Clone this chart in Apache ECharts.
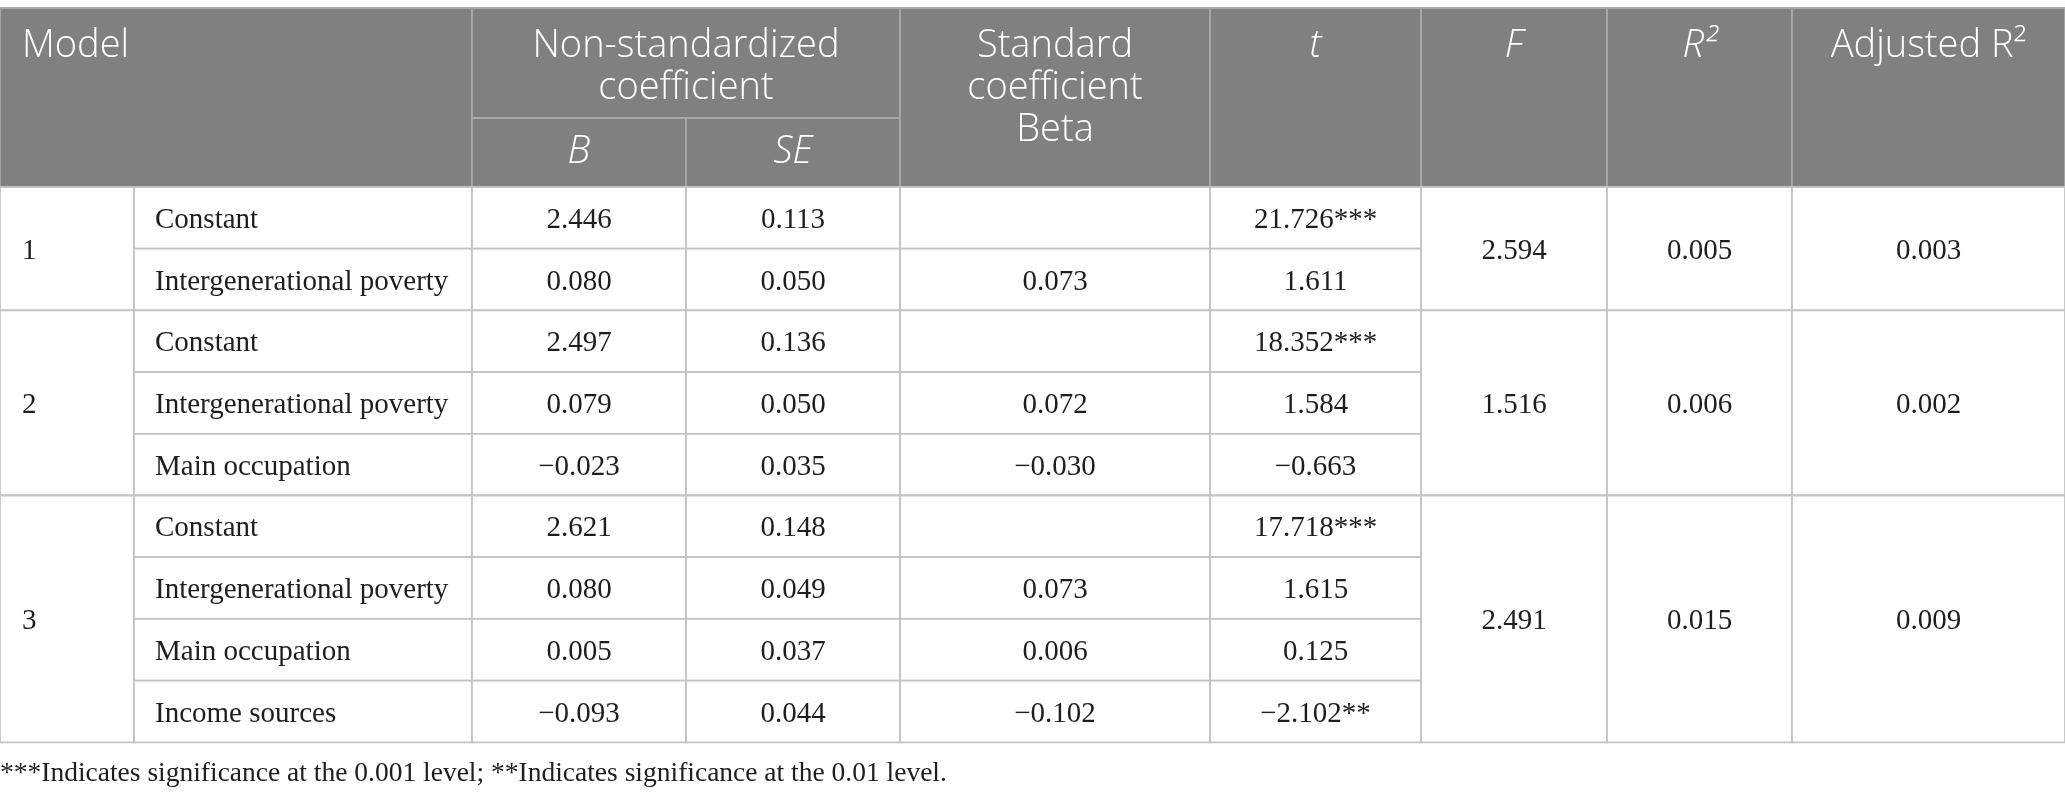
<!DOCTYPE html>
<html>
<head>
    <meta charset="utf-8"/>
    <title>Regression table</title>
    <script src="https://cdn.jsdelivr.net/npm/echarts@6/dist/echarts.min.js"></script>
    <style>
        html, body {margin: 0; padding: 0; background: #fff;}
        #main {width: 2065px; height: 801px;}
    </style>
</head>
<body>
<div id="main"></div>
<script type="text/javascript">
    /* table contents */
    var headerTop = ['Model', 'Non-standardized\ncoefficient', 'Standard\ncoefficient\nBeta', 't', 'F', 'R²', 'Adjusted R²'];
    var headerSub = ['B', 'SE'];
    var models = ['1', '2', '3'];
    var modelRows = [2, 3, 4];   // number of variable rows in each model
    var variables = ['Constant', 'Intergenerational poverty',
        'Constant', 'Intergenerational poverty', 'Main occupation',
        'Constant', 'Intergenerational poverty', 'Main occupation', 'Income sources'];
    var coefB = [2.446, 0.080, 2.497, 0.079, -0.023, 2.621, 0.080, 0.005, -0.093];
    var coefSE = [0.113, 0.050, 0.136, 0.050, 0.035, 0.148, 0.049, 0.037, 0.044];
    var beta = [null, 0.073, null, 0.072, -0.030, null, 0.073, 0.006, -0.102];
    var tValues = [21.726, 1.611, 18.352, 1.584, -0.663, 17.718, 1.615, 0.125, -2.102];
    var tStars = ['***', '', '***', '', '', '***', '', '', '**'];
    var fValues = [2.594, 1.516, 2.491];
    var r2Values = [0.005, 0.006, 0.015];
    var adjR2Values = [0.003, 0.002, 0.009];
    var footnote = '***Indicates significance at the 0.001 level; **Indicates significance at the 0.01 level.';

    /* layout (axis units = px of the picture) */
    var colEdges = [0, 134, 472, 686, 900, 1210, 1421, 1607, 1792, 2065];
    var headEdges = [8, 118, 187];
    var rowH = 61.7;
    function rowEdge(i) {
        return i < 3 ? headEdges[i] : headEdges[2] + rowH * (i - 2);
    }

    var SANS = '"Open Sans", "Noto Sans", sans-serif';
    var SERIF = '"Liberation Serif", "DejaVu Serif", serif';

    function fmt(v) {
        if (v === null || v === undefined) return '';
        return v.toFixed(3).replace('-', '\u2212');
    }

    /* build cell list: [c0, c1, r0, r1, text, kind, align] */
    var cells = [];
    cells.push([0, 2, 0, 2, headerTop[0], 'head', 'left']);
    cells.push([2, 4, 0, 1, headerTop[1], 'head', 'center']);
    cells.push([2, 3, 1, 2, headerSub[0], 'headI', 'center']);
    cells.push([3, 4, 1, 2, headerSub[1], 'headI', 'center']);
    cells.push([4, 5, 0, 2, headerTop[2], 'head', 'center']);
    cells.push([5, 6, 0, 2, headerTop[3], 'headI', 'center']);
    cells.push([6, 7, 0, 2, headerTop[4], 'headI', 'center']);
    cells.push([7, 8, 0, 2, headerTop[5], 'headI', 'center']);
    cells.push([8, 9, 0, 2, headerTop[6], 'head', 'center']);

    var start = 2;
    for (var m = 0; m < models.length; m++) {
        var end = start + modelRows[m];
        cells.push([0, 1, start, end, models[m], 'body', 'left']);
        cells.push([6, 7, start, end, fmt(fValues[m]), 'body', 'center']);
        cells.push([7, 8, start, end, fmt(r2Values[m]), 'body', 'center']);
        cells.push([8, 9, start, end, fmt(adjR2Values[m]), 'body', 'center']);
        start = end;
    }
    for (var k = 0; k < variables.length; k++) {
        var r = k + 2;
        cells.push([1, 2, r, r + 1, variables[k], 'body', 'left']);
        cells.push([2, 3, r, r + 1, fmt(coefB[k]), 'body', 'center']);
        cells.push([3, 4, r, r + 1, fmt(coefSE[k]), 'body', 'center']);
        cells.push([4, 5, r, r + 1, fmt(beta[k]), 'body', 'center']);
        cells.push([5, 6, r, r + 1, fmt(tValues[k]) + tStars[k], 'body', 'center']);
    }

    function renderCell(params, api) {
        var c = cells[params.dataIndex];
        var p0 = api.coord([colEdges[c[0]], rowEdge(c[2])]);
        var p1 = api.coord([colEdges[c[1]], rowEdge(c[3])]);
        var x = p0[0], y = p0[1], w = p1[0] - p0[0], h = p1[1] - p0[1];
        var isHead = c[5] !== 'body';
        var tx, ty, va;
        if (c[6] === 'left') {
            tx = x + (c[0] === 0 ? 22 : 21);
        } else {
            tx = x + w / 2;
        }
        if (isHead && c[2] === 0) {
            // header text hangs from the top of its cell
            ty = y + 17;
            va = 'top';
        } else {
            ty = y + h / 2 + (isHead ? 0 : 2.5);
            va = 'middle';
        }
        return {
            type: 'group',
            children: [{
                type: 'rect',
                shape: {x: x, y: y, width: w, height: h},
                style: {
                    fill: isHead ? '#7f807f' : '#fff',
                    stroke: isHead ? '#a8a8a8' : '#c3c3c3',
                    lineWidth: 1.8
                }
            }, {
                type: 'text',
                z2: 10,
                style: {
                    text: c[4],
                    x: tx,
                    y: ty,
                    align: c[6],
                    verticalAlign: va,
                    fill: isHead ? '#fff' : '#1e1e1e',
                    fontFamily: isHead ? SANS : SERIF,
                    fontSize: isHead ? 38 : 29,
                    fontStyle: c[5] === 'headI' ? 'italic' : 'normal',
                    fontWeight: isHead ? 300 : 'normal',
                    lineHeight: 42
                }
            }]
        };
    }

    var chart = echarts.init(document.getElementById('main'));
    var option = {
        animation: false,
        backgroundColor: '#fff',
        title: {
            text: footnote,
            left: 0,
            top: 760,
            padding: 0,
            textStyle: {
                fontFamily: SERIF,
                fontSize: 27.5,
                fontWeight: 'normal',
                color: '#1e1e1e'
            }
        },
        grid: {left: 0, right: 0, top: 0, bottom: 0},
        xAxis: {type: 'value', min: 0, max: 2065, show: false},
        yAxis: {type: 'value', min: 0, max: 801, inverse: true, show: false},
        series: [{
            type: 'custom',
            coordinateSystem: 'cartesian2d',
            clip: false,
            silent: true,
            renderItem: renderCell,
            data: cells.map(function (c, i) { return [colEdges[c[0]], rowEdge(c[2])]; })
        }]
    };
    chart.setOption(option);
    window.onresize = chart.resize;
</script>
</body>
</html>
